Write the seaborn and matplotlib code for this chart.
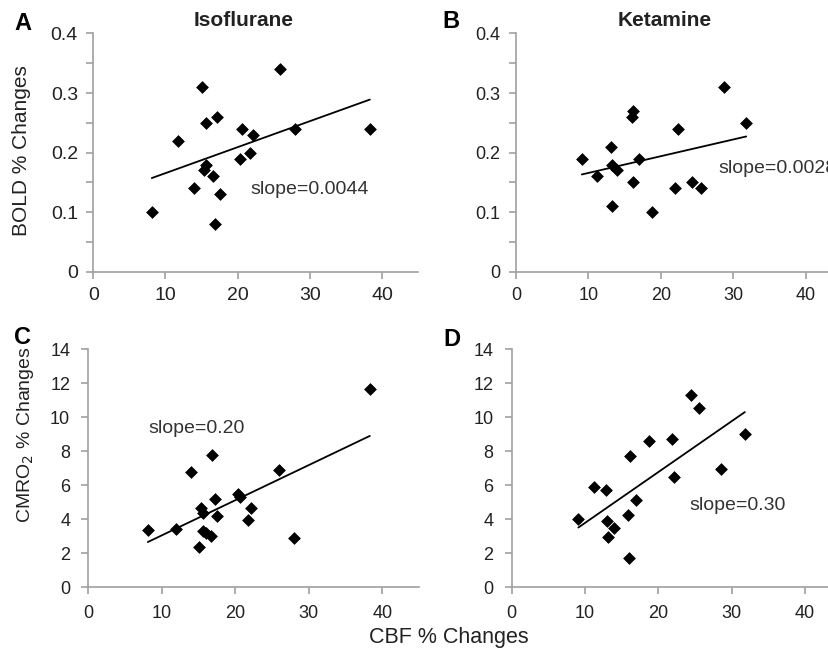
import numpy as np
import pandas as pd
import seaborn as sns
import matplotlib
matplotlib.use("Agg")
import matplotlib.pyplot as plt
from matplotlib.ticker import FixedLocator, MultipleLocator

# ---- data ----
iso_cbf_bold = [8.1, 11.8, 13.9, 15.1, 15.6, 15.6, 15.3, 16.6, 16.8, 17.2, 17.6,
                20.3, 20.6, 21.7, 22.1, 25.9, 28.0, 38.3]
iso_bold = [0.10, 0.22, 0.14, 0.31, 0.25, 0.18, 0.17, 0.16, 0.08, 0.26, 0.13,
            0.19, 0.24, 0.20, 0.23, 0.34, 0.24, 0.24]

ket_cbf_bold = [9.1, 11.2, 13.1, 13.2, 13.3, 14.0, 16.1, 16.0, 16.1, 17.0, 18.8,
                21.9, 22.4, 24.3, 25.5, 28.7, 31.8]
ket_bold = [0.19, 0.16, 0.21, 0.11, 0.18, 0.17, 0.27, 0.26, 0.15, 0.19, 0.10,
            0.14, 0.24, 0.15, 0.14, 0.31, 0.25]

iso_cbf_cmro2 = [8.1, 11.9, 14.0, 15.0, 15.3, 15.6, 15.6, 16.0, 16.65, 16.8, 17.2,
                 17.5, 20.4, 20.6, 21.7, 22.2, 25.95, 28.0, 38.3]
iso_cmro2 = [3.35, 3.43, 6.79, 2.35, 4.64, 4.39, 3.29, 3.17, 3.0, 7.77, 5.21,
             4.19, 5.48, 5.33, 3.94, 4.64, 6.89, 2.90, 11.65]

ket_cbf_cmro2 = [9.1, 11.2, 12.9, 13.0, 13.1, 14.0, 16.1, 15.9, 16.0, 16.9, 18.7,
                 21.9, 22.2, 24.4, 25.5, 28.6, 31.8]
ket_cmro2 = [4.01, 5.91, 5.74, 3.92, 2.98, 3.47, 7.71, 4.23, 1.74, 5.15, 8.62,
             8.69, 6.50, 11.32, 10.55, 6.97, 8.99]

slope_texts = ["slope=0.0044", "slope=0.0028", "slope=0.20", "slope=0.30"]
slope_pos = [(21.7, 0.138), (28.0, 0.173), (8.2, 9.34), (24.3, 4.80)]
col_titles = ["Isoflurane", "Ketamine"]
panel_letters = ["A", "B", "C", "D"]
bold_ticks = [0, 0.1, 0.2, 0.3, 0.4]
bold_ticklabels = ["0", "0.1", "0.2", "0.3", "0.4"]
cmro2_ticks = [0, 2, 4, 6, 8, 10, 12, 14]
x_ticks = [0, 10, 20, 30, 40]

# ---- style ----
sns.set_style("ticks")
plt.rcParams['font.family'] = ['Liberation Sans', 'DejaVu Sans']

W, H = 829, 655
fig = plt.figure(figsize=(W / 100, H / 100), dpi=100)

def px(x, y):
    return x / W, 1 - y / H

spine_col = "#a0a0a0"
text_col = "#222222"

positions = [
    (0.1125, 0.585, 0.392, 0.364),
    (0.6224, 0.585, 0.393, 0.364),
    (0.1065, 0.1034, 0.399, 0.3637),
    (0.6172, 0.1034, 0.398, 0.3637),
]
datasets = [
    (iso_cbf_bold, iso_bold),
    (ket_cbf_bold, ket_bold),
    (iso_cbf_cmro2, iso_cmro2),
    (ket_cbf_cmro2, ket_cmro2),
]
tick_sizes = [14, 13, 13, 13]

for i, (pos, (xs, ys)) in enumerate(zip(positions, datasets)):
    ax = fig.add_axes(pos)
    df = pd.DataFrame({"x": xs, "y": ys})
    sns.regplot(data=df, x="x", y="y", ax=ax, ci=None, marker="D",
                scatter_kws=dict(s=36, color="black", edgecolor="black", linewidths=0.5, alpha=1),
                line_kws=dict(color="black", lw=1.3), truncate=True)
    ax.set_xlim(0, 45)
    ax.set_xticks(x_ticks)
    ax.set_xticklabels([str(t) for t in x_ticks])
    if i < 2:
        ax.set_ylim(0, 0.4)
        ax.yaxis.set_major_locator(FixedLocator(bold_ticks))
        ax.set_yticklabels(bold_ticklabels)
        ax.yaxis.set_minor_locator(MultipleLocator(0.05))
        pad = 6
    else:
        ax.set_ylim(0, 14)
        ax.set_yticks(cmro2_ticks)
        ax.set_yticklabels([str(t) for t in cmro2_ticks])
        pad = 8
    ax.set_xlabel("")
    ax.set_ylabel("")
    sns.despine(ax=ax)
    for s in ["left", "bottom"]:
        ax.spines[s].set_color(spine_col)
        ax.spines[s].set_linewidth(1.2)
    ax.tick_params(axis="both", which="both", color=spine_col, width=1.2,
                   labelcolor=text_col, labelsize=tick_sizes[i])
    ax.tick_params(axis="both", which="major", length=5, pad=pad)
    ax.tick_params(axis="y", which="minor", length=5)
    ax.tick_params(axis="x", which="minor", length=0)
    tx, ty = slope_pos[i]
    ax.text(tx, ty, slope_texts[i], fontsize=14, color="#333333",
            ha="left", va="center", clip_on=False)

# titles
fig.text(*px(244, 21), col_titles[0], fontsize=15, fontweight="bold",
         ha="center", va="center", color=text_col)
fig.text(*px(665, 21), col_titles[1], fontsize=15, fontweight="bold",
         ha="center", va="center", color=text_col)

# panel letters
for letter, (lx, ly) in zip(panel_letters, [(23, 24), (451, 22), (23, 337), (452, 339)]):
    fig.text(*px(lx, ly), letter, fontsize=17, fontweight="bold",
             ha="center", va="center", color="black")

# axis labels
fig.text(*px(22, 151), "BOLD % Changes", fontsize=15, rotation=90,
         ha="center", va="center", color=text_col)
fig.text(*px(26, 435), "CMRO$_2$ % Changes", fontsize=14, rotation=90,
         ha="center", va="center", color=text_col)
fig.text(*px(449, 638), "CBF % Changes", fontsize=15.5, ha="center", va="center",
         color=text_col)

fig.savefig("out.png", dpi=100)
